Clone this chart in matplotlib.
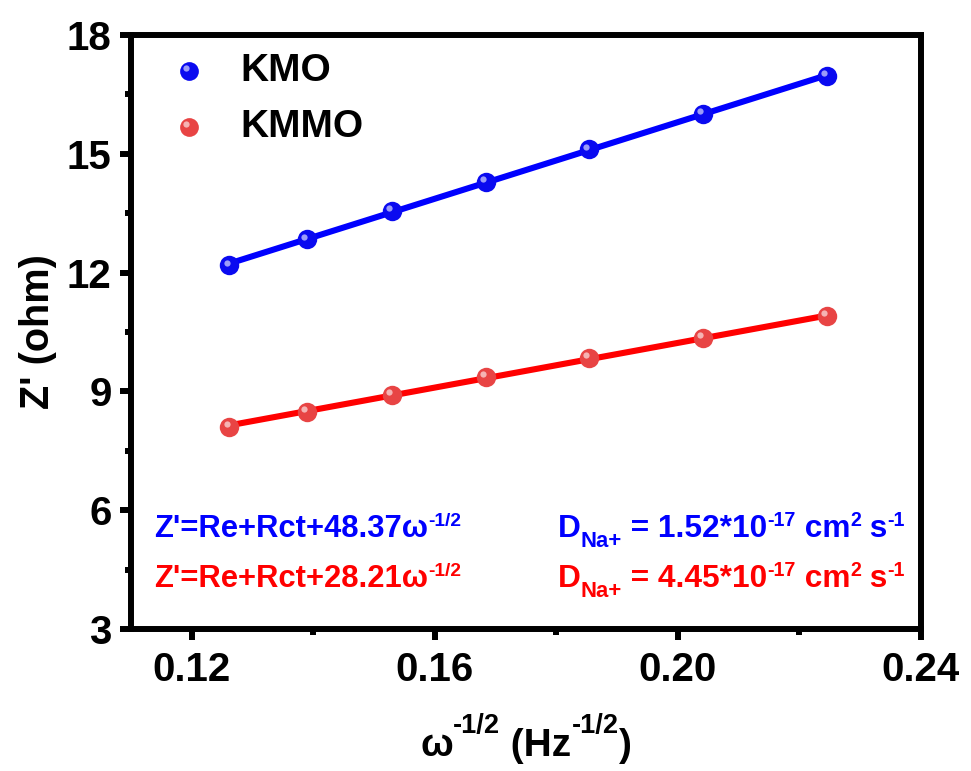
"""
Warburg plot: Z' vs omega^-1/2 for KMO and KMMO electrodes,
with linear fits and the derived Na+ diffusion coefficients.
"""
import numpy as np
import matplotlib
matplotlib.use("Agg")
import matplotlib.pyplot as plt
from matplotlib import transforms

plt.rcParams["font.family"] = ["Liberation Sans", "DejaVu Sans"]
plt.rcParams["font.weight"] = "bold"
plt.rcParams["axes.labelweight"] = "bold"

# omega^-1/2 (Hz^-1/2)
w_inv_sqrt = [0.1262, 0.1389, 0.1529, 0.1684, 0.1853, 0.2041, 0.2245]
z_kmo = [12.18, 12.84, 13.55, 14.30, 15.11, 16.00, 16.96]
z_kmmo = [8.10, 8.48, 8.91, 9.36, 9.84, 10.35, 10.90]

names = ["KMO", "KMMO"]
slopes = [48.37, 28.21]          # Warburg coefficient from the fit
d_na = ["1.52", "4.45"]          # x 10^-17 cm^2 s^-1
line_colors = ["#0000ff", "#ff0000"]
dot_colors = ["#0a0af0", "#e84444"]

fig = plt.figure(figsize=(9.71, 7.71), dpi=100)
ax = fig.add_axes([0.1349, 0.1842, 0.8136, 0.7704])
renderer = fig.canvas.get_renderer()


def rich_text(x, y, parts, size, color, ha="left", transform=None):
    """Draw a run of text pieces with super/subscripts.
    parts: (string, size factor, baseline shift in em)."""
    transform = transform or ax.transData
    px = fig.dpi / 72.0
    widths = []
    for s, k, _ in parts:
        t = fig.text(0, 0, s, fontsize=size * k, fontweight="bold")
        widths.append(t.get_window_extent(renderer).width)
        t.remove()
    x0, y0 = transform.transform((x, y))
    total = sum(widths)
    if ha == "right":
        x0 -= total
    elif ha == "center":
        x0 -= total / 2
    for (s, k, sh), w in zip(parts, widths):
        fig.text(x0, y0 + sh * size * px, s, fontsize=size * k, color=color,
                 fontweight="bold", va="baseline", ha="left",
                 transform=transforms.IdentityTransform())
        x0 += w


x = np.array(w_inv_sqrt)
hl = transforms.offset_copy(ax.transData, fig=fig, x=-2.0, y=2.0, units="points")

for name, y, k, lc, dc in zip(names, [z_kmo, z_kmmo], slopes, line_colors, dot_colors):
    y = np.array(y)
    b = y.mean() - k * x.mean()
    xf = np.array([x.min(), x.max()])
    ax.plot(xf, k * xf + b, color=lc, lw=4.4, zorder=2)
    ax.plot(x, y, "o", ms=14, color=dc, mec="none", zorder=3, label=name)
    # little specular spot on each ball
    ax.plot(x, y, "o", ms=4.5, color="white", alpha=0.6, mec="none",
            zorder=4, transform=hl)

ax.set_xlim(0.11, 0.24)
ax.set_ylim(3, 18)
ax.set_xticks([0.12, 0.16, 0.20, 0.24])
ax.set_xticks([0.14, 0.18, 0.22], minor=True)
ax.set_xticklabels(["0.12", "0.16", "0.20", "0.24"])
ax.set_yticks([3, 6, 9, 12, 15, 18])
ax.set_yticks([4.5, 7.5, 10.5, 13.5, 16.5], minor=True)

for s in ax.spines.values():
    s.set_linewidth(4.3)
ax.tick_params(which="major", direction="out", length=8, width=4.3, labelsize=29)
ax.tick_params(which="minor", direction="out", length=4, width=4.3)
ax.tick_params(axis="x", pad=8)
ax.tick_params(axis="y", pad=6)

ax.set_ylabel("Z' (ohm)", fontsize=28.5, labelpad=7)
rich_text(0.5, -0.214,
          [("ω", 1, 0), ("-1/2", 0.7, 0.6), (" (Hz", 1, 0),
           ("-1/2", 0.7, 0.6), (")", 1, 0)],
          28, "black", ha="center", transform=ax.transAxes)

# legend: ball + name
leg_y = [17.09, 15.68]
for name, ly, dc in zip(names, leg_y, dot_colors):
    ax.plot([0.1195], [ly], "o", ms=13.5, color=dc, mec="none", zorder=3)
    ax.plot([0.1195], [ly], "o", ms=4.5, color="white", alpha=0.6, mec="none",
            zorder=4, transform=hl)
    ax.text(0.128, ly, name, fontsize=28, va="center", ha="left")

eq_y = [5.32, 4.06]
for k, d, lc, ey in zip(slopes, d_na, line_colors, eq_y):
    rich_text(0.1138, ey,
              [("Z'=Re+Rct+%.2fω" % k, 1, 0), ("-1/2", 0.62, 0.36)],
              22.3, lc, ha="left")
    rich_text(0.2373, ey,
              [("D", 1, 0), ("Na+", 0.7, -0.3), (" = %s*10" % d, 1, 0),
               ("-17", 0.62, 0.36), (" cm", 1, 0), ("2", 0.62, 0.36),
               (" s", 1, 0), ("-1", 0.62, 0.36)],
              22.8, lc, ha="right")

fig.savefig("out.png", dpi=100)
